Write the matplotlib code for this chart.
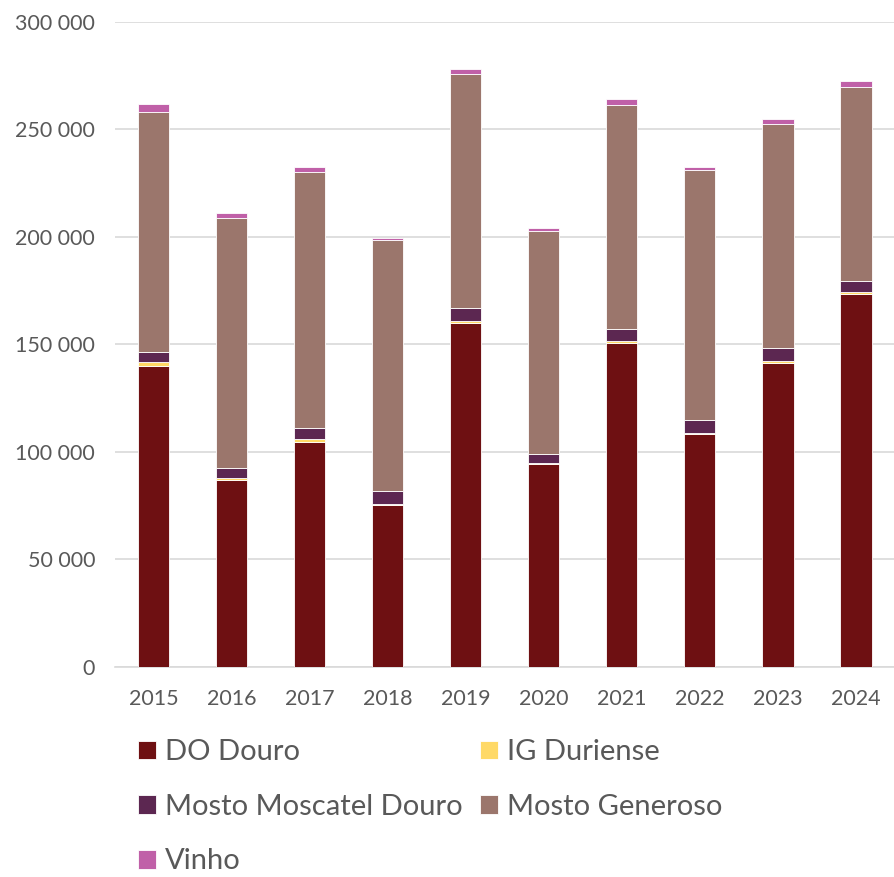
import numpy as np
import matplotlib
matplotlib.use("Agg")
import matplotlib.pyplot as plt
from matplotlib.ticker import FuncFormatter

# data (thousands)
years = ["2015", "2016", "2017", "2018", "2019", "2020", "2021", "2022", "2023", "2024"]
do_douro = [140.1, 87.0, 104.8, 75.3, 160.1, 94.5, 150.8, 108.5, 141.5, 173.6]
ig_duriense = [1.6, 0.9, 1.1, 0.5, 0.8, 0.2, 0.8, 0.5, 0.8, 0.8]
mosto_moscatel = [4.7, 4.8, 5.1, 6.2, 6.2, 4.5, 5.5, 6.0, 6.1, 5.0]
mosto_generoso = [111.6, 116.3, 119.4, 116.8, 108.6, 103.6, 104.2, 116.0, 104.2, 90.2]
vinho = [3.9, 2.0, 2.0, 0.9, 2.4, 1.2, 2.7, 1.6, 2.3, 3.0]

series = [
    ("DO Douro", do_douro, "#6E1012"),
    ("IG Duriense", ig_duriense, "#FFD966"),
    ("Mosto Moscatel Douro", mosto_moscatel, "#5C2751"),
    ("Mosto Generoso", mosto_generoso, "#9B766C"),
    ("Vinho", vinho, "#C060A8"),
]

plt.rcParams['font.family'] = ['Lato', 'DejaVu Sans']
txt = "#595959"

fig = plt.figure(figsize=(8.95, 8.77), dpi=100)
ax = fig.add_axes([0.128, 0.2395, 0.872, 0.7355])

x = np.arange(len(years))
bottom = np.zeros(len(years))
handles = {}
for name, vals, col in series:
    v = np.array(vals) * 1000
    h = ax.bar(x, v, 0.4, bottom=bottom, color=col, edgecolor="white",
               linewidth=0.6, label=name, zorder=3)
    handles[name] = h
    bottom += v

ax.set_xlim(-0.5, len(years) - 0.5)
ax.set_ylim(0, 300000)
ax.set_yticks(np.arange(0, 300001, 50000))
ax.yaxis.set_major_formatter(FuncFormatter(lambda v, p: f"{int(v):,}".replace(",", " ")))
ax.set_xticks(x)
ax.set_xticklabels(years)
ax.grid(axis="y", color="#D9D9D9", linewidth=1.2, zorder=0)
for s in ["top", "right", "left"]:
    ax.spines[s].set_visible(False)
ax.spines["bottom"].set_color("#D9D9D9")
ax.spines["bottom"].set_linewidth(1.2)
ax.tick_params(length=0, labelsize=15.5, colors=txt)
ax.tick_params(axis="x", pad=16)
ax.tick_params(axis="y", pad=14)

# column-wise order so rows read DO/IG, Moscatel/Generoso, Vinho
order = ["DO Douro", "Mosto Moscatel Douro", "Vinho", "IG Duriense", "Mosto Generoso"]
leg = fig.legend([handles[n] for n in order], order, ncol=2, loc="upper left",
                 bbox_to_anchor=(0.154, 0.157), frameon=False, fontsize=21,
                 handlelength=0.62, handleheight=0.62, handletextpad=0.3,
                 columnspacing=0.6, labelspacing=0.98, borderaxespad=0,
                 borderpad=0)
for t in leg.get_texts():
    t.set_color(txt)

fig.savefig("out.png", dpi=100)
